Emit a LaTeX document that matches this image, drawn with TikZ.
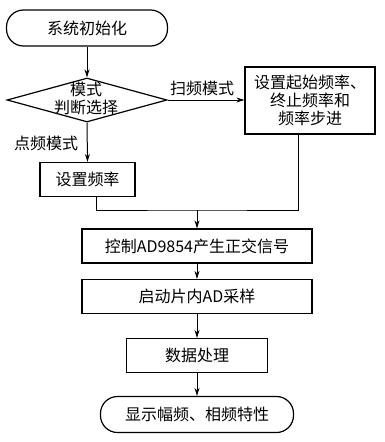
\documentclass[tikz,border=0pt]{standalone}
\usepackage{fontspec}
\setmainfont{Noto Sans CJK SC}
\usetikzlibrary{arrows.meta, positioning, calc, shapes.geometric}

\begin{document}
\begin{tikzpicture}[
    x=1pt, y=-1pt,
    font=\fontsize{16}{18}\selectfont,
    term/.style={draw, line width=1.2pt, rounded corners=17pt,
        minimum width=#1, minimum height=36pt},
    term/.default=161pt,
    decide/.style={draw, diamond, line width=1.2pt, inner sep=0pt,
        minimum width=160pt, minimum height=44pt},
    proc/.style={draw, line width=1.2pt, align=center,
        minimum width=#1, minimum height=34pt},
    proc/.default=230pt,
    link/.style={-{Stealth[length=8pt, width=5pt]}, line width=1pt},
    tag/.style={inner sep=1pt},
]
\useasboundingbox (0,0) rectangle (384,442);

% --- inicio ---
\node[term] (start) at (87,28) {系统初始化};

% --- decision ---
\node[decide] (mode) at (87,100) {};
\node[align=center, inner sep=0pt] (modetxt) at (86,98) {模式\\判断选择};
\draw[link] (start) -- (mode);

% --- sweep branch (right) ---
\node[proc=130pt, minimum height=67pt] (sweep) at (310,100.5)
    {设置起始频率、\\终止频率和\\频率步进};
\node[tag] (sweeptag) at (202,88) {扫频模式};
\draw[link] (mode.east) -- (sweep.west |- mode.east);

% --- point branch (left) ---
\node[tag] (pointtag) at (46,143) {点频模式};
\node[proc=95pt] (setf) at (87.5,179.5) {设置频率};
\draw[link] (mode.south) -- (setf.north);

% --- merge ---
\coordinate (join) at (197,210);
\draw[line width=1pt] ([xshift=9pt]setf.south) |- (join) -| ([xshift=-12pt]sweep.south);

% --- main column ---
\node[proc] (ctrl) at (197,246) {控制AD9854产生正交信号};
\node[proc] (adc) at (197,296.5) {启动片内AD采样};
\node[proc=141pt] (dproc) at (197,355.5) {数据处理};
\node[term=193pt] (show) at (197,414.5) {显示幅频、相频特性};
\draw[link] (join) -- (ctrl.north);
\draw[link] (ctrl) -- (adc);
\draw[link] (adc) -- (dproc);
\draw[link] (dproc) -- (show);

\end{tikzpicture}
\end{document}
